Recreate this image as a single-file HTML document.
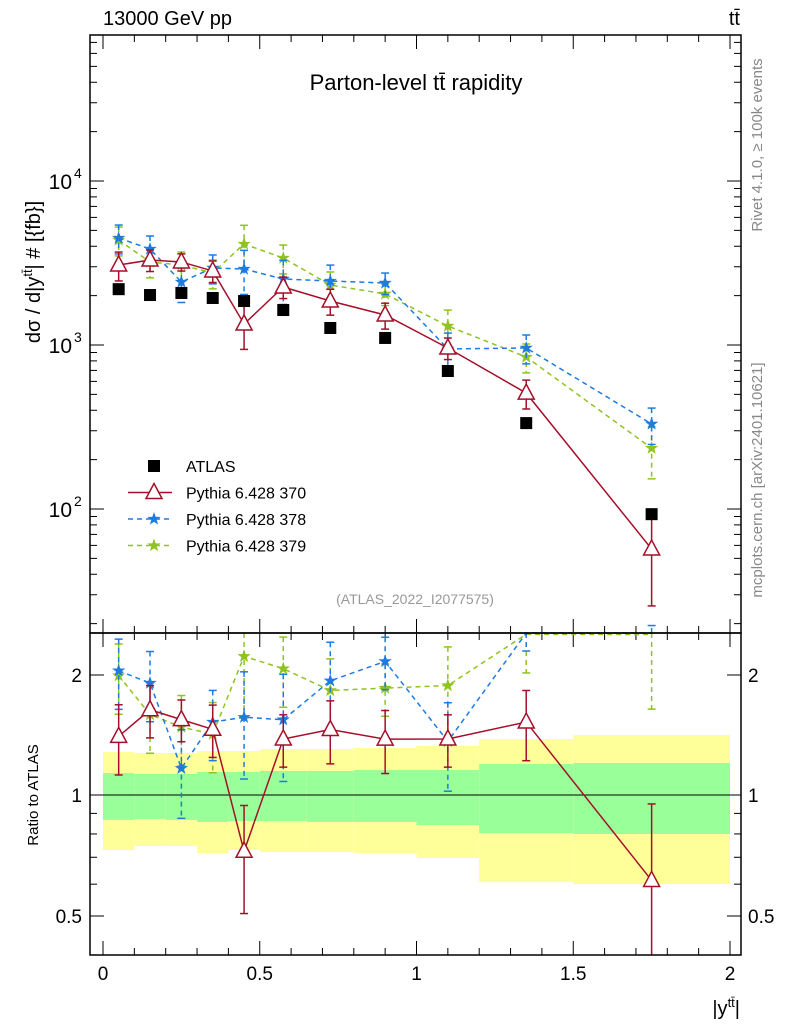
<!DOCTYPE html>
<html><head><meta charset="utf-8">
<style>
body{margin:0;background:#fff;}
svg{display:block;font-family:"Liberation Sans",sans-serif;}
</style></head>
<body>
<svg id="c" width="786" height="1024" viewBox="0 0 786 1024">
<rect x="0" y="0" width="786" height="1024" fill="#fff"/>
<g id="bands"></g>
<g id="grid"></g>
<g id="series"></g>
<rect x="90" y="35" width="651" height="598" fill="none" stroke="#000" stroke-width="1.5"/>
<rect x="90" y="633" width="651" height="322" fill="none" stroke="#000" stroke-width="1.5"/>
<text x="103" y="25" font-size="20">13000 GeV pp</text>
<text x="740" y="25" font-size="20" text-anchor="end">tt̄</text>
<text x="416" y="90" font-size="22" text-anchor="middle">Parton-level tt̄ rapidity</text>
<text x="415" y="604" font-size="14" fill="#999" text-anchor="middle">(ATLAS_2022_I2077575)</text>
<text transform="translate(40,272) rotate(-90)" font-size="20" text-anchor="middle">dσ / d|y<tspan font-size="13" dy="-8">tt̄</tspan><tspan dy="8">| # [{fb}]</tspan></text>
<text transform="translate(38,795) rotate(-90)" font-size="15" text-anchor="middle">Ratio to ATLAS</text>
<text x="740" y="1015" font-size="20" text-anchor="end">|y<tspan font-size="13" dy="-8">tt̄</tspan><tspan dy="8">|</tspan></text>
<text transform="translate(762,145) rotate(-90)" font-size="15" fill="#888" text-anchor="middle">Rivet 4.1.0, ≥ 100k events</text>
<text transform="translate(762,480) rotate(-90)" font-size="15" fill="#888" text-anchor="middle">mcplots.cern.ch [arXiv:2401.10621]</text>
<g id="legend"></g>
</svg>
<script>
const edges=[0,0.1,0.2,0.3,0.4,0.5,0.65,0.8,1.0,1.2,1.5,2.0];
const centers=[0.05,0.15,0.25,0.35,0.45,0.575,0.725,0.9,1.1,1.35,1.75];
const atlas=[2190,2017,2076,1935,1854,1634,1270,1104,694,334,93];
const p370=[3073,3300,3209,2828,1343,2258,1854,1524,959,509,57];
const p378=[4490,3850,2422,2950,2905,2524,2456,2388,946,959,330];
const p379=[4365,3209,3073,2750,4130,3390,2323,2047,1306,845,235];
const e370=[0.2,0.15,0.12,0.15,0.3,0.15,0.18,0.18,0.15,0.2,0.55];
const e378=[0.2,0.2,0.25,0.2,0.3,0.3,0.25,0.15,0.25,0.2,0.25];
const e379=[0.2,0.2,0.2,0.2,0.3,0.2,0.2,0.15,0.25,0.2,0.35];
const yelUp=[1.282,1.274,1.274,1.289,1.289,1.304,1.304,1.312,1.327,1.382,1.414];
const yelDn=[0.730,0.747,0.747,0.717,0.730,0.721,0.721,0.717,0.697,0.608,0.600];
const grnUp=[1.135,1.129,1.129,1.142,1.142,1.149,1.149,1.155,1.155,1.196,1.203];
const grnDn=[0.867,0.872,0.867,0.857,0.862,0.862,0.857,0.857,0.842,0.804,0.800];
const xTicks=[0,0.5,1,1.5,2];
const xTickLabels=["0","0.5","1","1.5","2"];
const yTicks=[100,1000,10000];
const yTickLabels=["10","10","10"];
const yTickExp=["2","3","4"];
const rTicks=[0.5,1,2];
const rTickLabels=["0.5","1","2"];

const NS="http://www.w3.org/2000/svg";
const X=v=>103+v*313.5;
const Y=v=>181-(Math.log10(v)-4)*164;
const R=v=>v>=1?795-Math.log2(v)*120:795-Math.log2(v)*121;
const MT=35,MB=633,RT=633,RB=955;
function el(p,t,a){const e=document.createElementNS(NS,t);for(const k in a)e.setAttribute(k,a[k]);p.appendChild(e);return e;}
const bands=document.getElementById('bands'),grid=document.getElementById('grid'),ser=document.getElementById('series'),leg=document.getElementById('legend');

for(let i=0;i<centers.length;i++){
 let r=el(bands,'rect',{x:X(edges[i]),y:R(yelUp[i]),width:X(edges[i+1])-X(edges[i]),height:R(yelDn[i])-R(yelUp[i]),fill:'#ffff99'});
 
 
 let g=el(bands,'rect',{x:X(edges[i]),y:R(grnUp[i]),width:X(edges[i+1])-X(edges[i]),height:R(grnDn[i])-R(grnUp[i]),fill:'#99ff99'});
 
 
}
el(bands,'line',{x1:90,x2:741,y1:R(1),y2:R(1),stroke:'#000','stroke-width':1});

for(let v=0;v<=2.0001;v+=0.1){
 const big=Math.abs(v*2-Math.round(v*2))<1e-6, L=big?14:7, x=X(v);
 for(const [a,b] of [[MT,MT+L],[MB,MB-L],[RT,RT+L],[RB,RB-L]]) el(grid,'line',{x1:x,x2:x,y1:a,y2:b,stroke:'#000'});
}
xTicks.forEach((v,i)=>{const t=el(grid,'text',{x:X(v),y:980,'font-size':19,'text-anchor':'middle'});t.textContent=xTickLabels[i];

});
for(let d=1;d<=4;d++)for(let m=1;m<10;m++){const v=m*Math.pow(10,d);const y=Y(v);if(y<MT||y>MB)continue;const L=m==1?14:7;
 el(grid,'line',{x1:90,x2:90+L,y1:y,y2:y,stroke:'#000'});el(grid,'line',{x1:741,x2:741-L,y1:y,y2:y,stroke:'#000'});}
yTicks.forEach((v,i)=>{const t=el(grid,'text',{x:72,y:Y(v)+8,'font-size':21,'text-anchor':'end'});t.textContent=yTickLabels[i];
 const s=el(grid,'text',{x:74,y:Y(v)-3,'font-size':14});s.textContent=yTickExp[i];

});
for(const v of [0.4,0.5,0.6,0.7,0.8,0.9,1,2]){const y=R(v);const L=(v==0.5||v==1||v==2)?14:7;
 el(grid,'line',{x1:90,x2:90+L,y1:y,y2:y,stroke:'#000'});el(grid,'line',{x1:741,x2:741-L,y1:y,y2:y,stroke:'#000'});}
rTicks.forEach((v,i)=>{for(const [x,a] of [[82,'end'],[748,'start']]){const t=el(grid,'text',{x:x,y:R(v)+7,'font-size':19,'text-anchor':a});t.textContent=rTickLabels[i];

}});

function star(g,x,y,r,c){let p='';for(let k=0;k<10;k++){const rr=k%2?r*0.4:r;const a=-Math.PI/2+k*Math.PI/5;p+=(x+rr*Math.cos(a))+','+(y+rr*Math.sin(a))+' ';}return el(g,'polygon',{points:p,fill:c,stroke:c});}
function tri(g,x,y,c){return el(g,'polygon',{points:`${x},${y-9} ${x-8},${y+6} ${x+8},${y+6}`,fill:'#fff',stroke:c,'stroke-width':1.5});}

function drawModel(vals,errs,color,dash,marker,name,clipTop,clipBot,ymap,ratio){
 const g=el(ser,'g',{});
 
 
 const pts=vals.map((v,i)=>{const val=ratio?v/atlas[i]:v;return [X(centers[i]),ymap(val),val];});
 let d=pts.map((p,i)=>(i?'L':'M')+p[0]+','+Math.max(clipTop,Math.min(clipBot,p[1]))).join(' ');
 el(g,'path',{d:d,fill:'none',stroke:color,'stroke-width':1.5,'stroke-dasharray':dash});
 pts.forEach((p,i)=>{const e=errs[i];const y1=Math.max(clipTop,ymap(p[2]*(1+e))),y2=Math.min(clipBot,ymap(p[2]*(1-e)));
  el(g,'line',{x1:p[0],x2:p[0],y1:y1,y2:y2,stroke:color,'stroke-width':1.5,'stroke-dasharray':dash});
  if(y1>clipTop)el(g,'line',{x1:p[0]-4,x2:p[0]+4,y1:y1,y2:y1,stroke:color,'stroke-width':1.5});
  if(y2<clipBot)el(g,'line',{x1:p[0]-4,x2:p[0]+4,y1:y2,y2:y2,stroke:color,'stroke-width':1.5});
  if(p[1]>clipTop+4&&p[1]<clipBot){if(marker=='tri')tri(g,p[0],p[1],color);else star(g,p[0],p[1],5.5,color);}
 });
}
drawModel(p379,e379,'#8fc31f','5,4','star','series-pythia-379',MT,MB,Y,false);
drawModel(p378,e378,'#1e7be0','5,4','star','series-pythia-378',MT,MB,Y,false);
drawModel(p370,e370,'#a50f2a','','tri','series-pythia-370',MT,MB,Y,false);
drawModel(p379,e379,'#8fc31f','5,4','star','ratio-pythia-379',RT,RB,R,true);
drawModel(p378,e378,'#1e7be0','5,4','star','ratio-pythia-378',RT,RB,R,true);
drawModel(p370,e370,'#a50f2a','','tri','ratio-pythia-370',RT,RB,R,true);
atlas.forEach((v,i)=>{const r=el(ser,'rect',{x:X(centers[i])-6,y:Y(v)-6,width:12,height:12,fill:'#000'});

});

const items=[["ATLAS",'sq','#000',''],["Pythia 6.428 370",'tri','#a50f2a',''],["Pythia 6.428 378",'star','#1e7be0','5,4'],["Pythia 6.428 379",'star','#8fc31f','5,4']];
items.forEach((it,i)=>{const y=466+i*26.5;const g=el(leg,'g',{});
 
 
 if(it[1]=='sq')el(g,'rect',{x:148,y:y-6,width:12,height:12,fill:'#000'});
 else{el(g,'line',{x1:128,x2:172,y1:y,y2:y,stroke:it[2],'stroke-width':1.5,'stroke-dasharray':it[3]});
  if(it[1]=='tri')tri(g,154,y,it[2]);else star(g,154,y,5.5,it[2]);}
 const t=el(g,'text',{x:186,y:y+6,'font-size':16});t.textContent=it[0];});
</script>
</body></html>
